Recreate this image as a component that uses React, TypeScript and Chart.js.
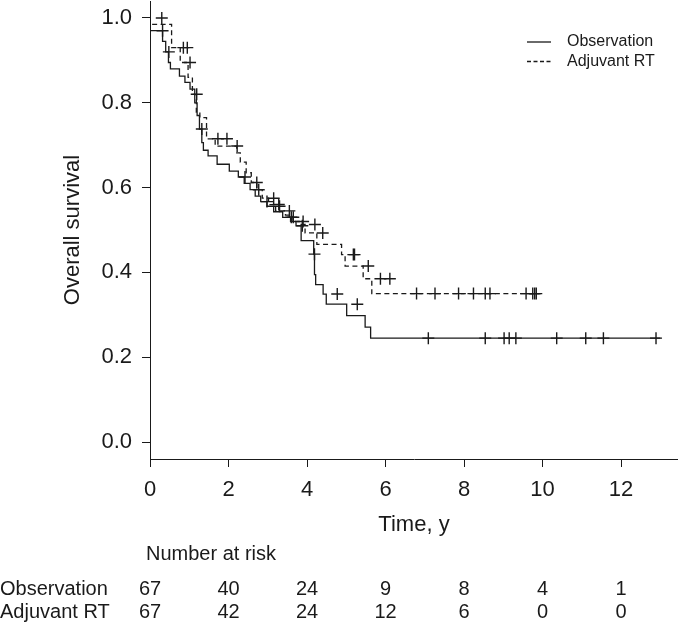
import React, { useEffect, useRef } from "react";
import { Chart, registerables } from "chart.js";

Chart.register(...registerables);

// ---------- data ----------
const xTicks = [0, 2, 4, 6, 8, 10, 12];
const yTicks = [0, 0.2, 0.4, 0.6, 0.8, 1.0];

const seriesNames = ["Observation", "Adjuvant RT"];

// Observation: Kaplan-Meier step times (years) and survival after each step
const obsTimes = [0, 0.32, 0.40, 0.47, 0.52, 0.75, 0.89, 1.02, 1.14, 1.20, 1.26, 1.32, 1.36, 1.48, 1.71, 2.02, 2.25, 2.40, 2.55, 2.68, 2.82, 2.98, 3.15, 3.38, 3.58, 3.72, 3.85, 4.17, 4.19, 4.22, 4.41, 4.49, 5.01, 5.48, 5.62, 5.93];
const obsSurv = [1.0, 0.970, 0.945, 0.920, 0.895, 0.880, 0.863, 0.848, 0.832, 0.800, 0.770, 0.738, 0.706, 0.688, 0.675, 0.655, 0.639, 0.625, 0.610, 0.595, 0.580, 0.567, 0.556, 0.543, 0.530, 0.520, 0.510, 0.475, 0.443, 0.395, 0.371, 0.349, 0.325, 0.298, 0.271, 0.245];
const obsEnd = 13.0;
const obsCensor = [0.32, 0.48, 1.32, 2.42, 2.77, 2.98, 3.30, 3.60, 3.65, 3.88, 4.19, 4.77, 5.28, 7.09, 8.54, 9.02, 9.15, 9.32, 10.36, 11.10, 11.55, 12.89];

// Adjuvant RT
const rtTimes = [0, 0.55, 0.77, 0.97, 1.08, 1.18, 1.27, 1.44, 1.66, 2.21, 2.30, 2.45, 2.58, 2.72, 2.86, 3.02, 3.20, 3.45, 3.62, 3.80, 3.95, 4.25, 4.88, 4.97, 5.43, 5.65, 6.47];
const rtSurv = [1.0, 0.985, 0.930, 0.895, 0.860, 0.820, 0.778, 0.765, 0.715, 0.698, 0.682, 0.660, 0.635, 0.612, 0.595, 0.575, 0.560, 0.545, 0.535, 0.520, 0.513, 0.493, 0.466, 0.442, 0.415, 0.385, 0.350];
const rtEnd = 9.94;
const rtCensor = [0.30, 0.85, 0.95, 1.02, 1.19, 1.73, 1.96, 2.22, 2.72, 3.15, 3.28, 3.55, 3.90, 4.20, 4.40, 5.18, 5.21, 5.56, 5.87, 6.11, 6.79, 7.26, 7.86, 8.24, 8.54, 8.66, 9.58, 9.75, 9.80, 9.84];

// Number at risk at each x tick
const obsAtRisk = [67, 40, 24, 9, 8, 4, 1];
const rtAtRisk = [67, 42, 24, 12, 6, 0, 0];

// ---------- helpers ----------
const FONT = "'Liberation Sans', Arial, Helvetica, sans-serif";
const INK = "#1a1a1a";

function stepPoints(times: number[], surv: number[], end: number) {
  const pts = times.map((t, i) => ({ x: t, y: surv[i] }));
  pts.push({ x: end, y: surv[surv.length - 1] });
  return pts;
}
function survAt(times: number[], surv: number[], t: number) {
  let s = surv[0];
  for (let i = 0; i < times.length; i++) if (times[i] <= t) s = surv[i];
  return s;
}
function censorPoints(times: number[], surv: number[], cens: number[]) {
  return cens.map((t) => ({ x: t, y: survAt(times, surv, t) }));
}

const extrasPlugin = {
  id: "kmExtras",
  afterDraw(chart: any) {
    const { ctx, chartArea } = chart;
    const xs = chart.scales.x;
    ctx.save();
    ctx.fillStyle = INK;
    ctx.strokeStyle = INK;
    // legend
    ctx.font = `16px ${FONT}`;
    ctx.textBaseline = "middle";
    ctx.textAlign = "left";
    ctx.lineWidth = 1.3;
    seriesNames.forEach((name, i) => {
      const y = chartArea.top + 41 + i * 19.5;
      const x0 = chartArea.right - 151;
      ctx.setLineDash(i === 0 ? [] : [4, 2.5]);
      ctx.beginPath();
      ctx.moveTo(x0, y);
      ctx.lineTo(x0 + 24, y);
      ctx.stroke();
      ctx.setLineDash([]);
      ctx.fillText(name, x0 + 40, y);
    });
    // number at risk table
    ctx.font = `20px ${FONT}`;
    ctx.textAlign = "left";
    ctx.fillText("Number at risk", xs.getPixelForValue(0) - 4, 554);
    const rows = [obsAtRisk, rtAtRisk];
    rows.forEach((vals, r) => {
      const y = 589 + r * 23;
      ctx.textAlign = "left";
      ctx.fillText(seriesNames[r], 0, y);
      ctx.textAlign = "center";
      vals.forEach((v, j) => {
        ctx.fillText(String(v), xs.getPixelForValue(xTicks[j]), y);
      });
    });
    ctx.restore();
  },
};

export default function App() {
  const ref = useRef<HTMLCanvasElement | null>(null);

  useEffect(() => {
    if (!ref.current) return;
    Chart.defaults.font.family = FONT;
    Chart.defaults.color = INK;

    const chart = new Chart(ref.current, {
      type: "line",
      data: {
        datasets: [
          {
            label: seriesNames[0],
            data: stepPoints(obsTimes, obsSurv, obsEnd),
            stepped: "after",
            borderColor: INK,
            borderWidth: 1.3,
            pointRadius: 0,
            fill: false,
            order: 2,
          },
          {
            label: seriesNames[1],
            data: stepPoints(rtTimes, rtSurv, rtEnd),
            stepped: "after",
            borderColor: INK,
            borderWidth: 1.3,
            borderDash: [5, 3.5],
            pointRadius: 0,
            fill: false,
            order: 2,
          },
          {
            label: "obs censored",
            data: censorPoints(obsTimes, obsSurv, obsCensor),
            showLine: false,
            pointStyle: "cross",
            pointRadius: 6,
            pointBorderWidth: 1.4,
            borderColor: INK,
            order: 1,
          },
          {
            label: "rt censored",
            data: censorPoints(rtTimes, rtSurv, rtCensor),
            showLine: false,
            pointStyle: "cross",
            pointRadius: 6,
            pointBorderWidth: 1.4,
            borderColor: INK,
            order: 1,
          },
        ],
      },
      options: {
        responsive: false,
        animation: false,
        devicePixelRatio: 1,
        layout: { autoPadding: false, padding: { top: 1, right: 0, left: 0, bottom: 0 } },
        plugins: {
          legend: { display: false },
          tooltip: { enabled: false },
        },
        scales: {
          x: {
            type: "linear",
            min: 0,
            max: 13.45,
            afterBuildTicks: (s: any) => {
              s.ticks = xTicks.map((v) => ({ value: v }));
            },
            afterFit: (s: any) => {
              s.height = 167;
              s.paddingLeft = 0;
              s.paddingRight = 0;
            },
            grid: {
              drawOnChartArea: false,
              drawTicks: true,
              tickLength: 8,
              color: INK,
              lineWidth: 1,
            },
            border: { display: true, color: INK, width: 1 },
            ticks: {
              padding: 10,
              maxRotation: 0,
              autoSkip: false,
              font: { size: 22, family: FONT },
              color: INK,
              callback: (v: any) => String(v),
            },
            title: {
              display: true,
              text: "Time, y",
              font: { size: 22, family: FONT },
              color: INK,
              padding: { top: 0, bottom: 88 },
            },
          },
          y: {
            type: "linear",
            min: -0.04,
            max: 1.04,
            afterBuildTicks: (s: any) => {
              s.ticks = yTicks.map((v) => ({ value: v }));
            },
            afterFit: (s: any) => {
              s.width = 150;
              s.paddingTop = 0;
              s.paddingBottom = 0;
            },
            grid: {
              drawOnChartArea: false,
              drawTicks: true,
              tickLength: 8,
              color: INK,
              lineWidth: 1,
            },
            border: { display: true, color: INK, width: 1 },
            ticks: {
              padding: 10,
              autoSkip: false,
              font: { size: 22, family: FONT },
              color: INK,
              callback: (v: any) => Number(v).toFixed(1),
            },
            title: {
              display: true,
              text: "Overall survival",
              font: { size: 22, family: FONT },
              color: INK,
              padding: { top: 60, bottom: 0 },
            },
          },
        },
      },
      plugins: [extrasPlugin],
    } as any);

    return () => chart.destroy();
  }, []);

  return (
    <div style={{ position: "absolute", left: 0, top: 0, width: 678, height: 626, background: "#ffffff" }}>
      <canvas ref={ref} width={678} height={626} style={{ display: "block", width: 678, height: 626 }} />
    </div>
  );
}
